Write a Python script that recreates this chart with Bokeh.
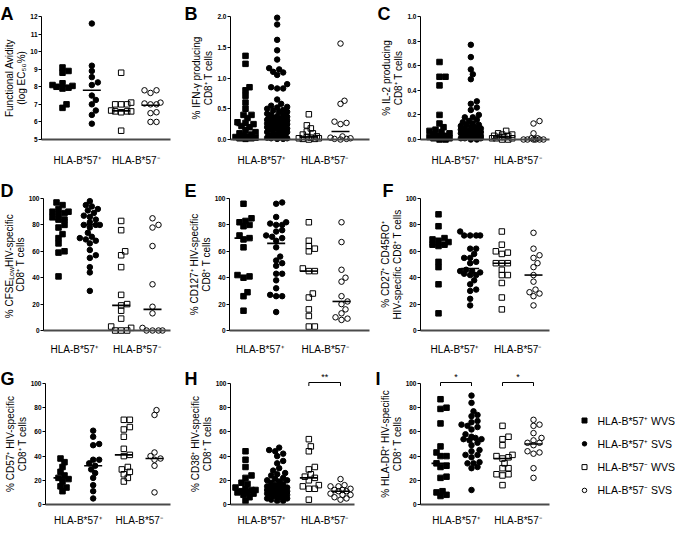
import math
from bokeh.plotting import figure
from bokeh.models import Range1d, FixedTicker, PrintfTickFormatter
from bokeh.layouts import row, column
from bokeh.embed import file_html
from bokeh.resources import INLINE
from bokeh.core.properties import value

FONT = "Liberation Sans"

# ---------------- data ----------------
group_labels = ["HLA-B*57\u207a", "HLA-B*57\u207b"]
legend_labels = ["HLA-B*57\u207a WVS", "HLA-B*57\u207a SVS", "HLA-B*57\u207b WVS", "HLA-B*57\u207b SVS"]

a_pos_wvs = [9.1, 8.9, 8.8, 8.2, 8.1, 8.05, 8.0, 7.95, 7.9, 7.0, 6.8]
a_pos_svs = [11.6, 9.2, 8.9, 8.55, 8.25, 8.1, 7.5, 7.25, 7.0, 6.65, 6.4, 5.9]
a_neg_wvs = [8.8, 7.1, 7.0, 7.0, 7.0, 6.65, 6.6, 6.6, 6.6, 6.55, 5.5]
a_neg_svs = [7.8, 7.8, 7.65, 7.1, 7.05, 7.0, 7.0, 6.55, 6.5, 6.0, 6.0]
a_medians = [8.05, 7.8, 6.63, 6.95]
a_ticks = [5, 6, 7, 8, 9, 10, 11, 12]

b_pos_wvs = [1.36, 1.23, 0.85, 0.80, 0.71, 0.60, 0.50, 0.40, 0.40, 0.35, 0.28, 0.27, 0.25,
             0.22, 0.20, 0.15, 0.12, 0.10, 0.08, 0.06, 0.05, 0.04, 0.03, 0.02, 0.02, 0.01]
b_pos_svs = [1.98, 1.87, 1.62, 1.45, 1.30, 1.16, 1.14, 1.10, 1.09, 1.05, 0.90, 0.85, 0.83, 0.83,
             0.65, 0.58, 0.55, 0.53, 0.52, 0.50, 0.48, 0.47, 0.45, 0.45, 0.42, 0.40, 0.40, 0.38,
             0.37, 0.36, 0.35, 0.34, 0.33, 0.32, 0.31, 0.30, 0.30, 0.28, 0.27, 0.26, 0.25, 0.25,
             0.23, 0.22, 0.21, 0.20, 0.18, 0.18, 0.16, 0.15, 0.14, 0.12, 0.12, 0.10, 0.09, 0.08,
             0.06, 0.06, 0.05, 0.04, 0.03, 0.02, 0.02, 0.01, 0.01]
b_neg_wvs = [0.41, 0.23, 0.18, 0.13, 0.10, 0.08, 0.05, 0.04, 0.03, 0.02, 0.02, 0.01, 0.01, 0.0]
b_neg_svs = [1.56, 0.63, 0.58, 0.29, 0.27, 0.25, 0.05, 0.03, 0.02, 0.01, 0.01, 0.0]
b_medians = [0.23, 0.32, 0.04, 0.13]
b_ticks = [0.0, 0.5, 1.0, 1.5, 2.0]

c_pos_wvs = [0.63, 0.51, 0.51, 0.44, 0.20, 0.13, 0.10, 0.08, 0.07, 0.06, 0.05, 0.04, 0.03,
             0.03, 0.02, 0.02, 0.01, 0.01, 0.0, 0.0]
c_pos_svs = [0.77, 0.67, 0.57, 0.53, 0.49, 0.31, 0.29, 0.26, 0.24, 0.20, 0.18, 0.18, 0.16,
             0.15, 0.14, 0.13, 0.12, 0.12, 0.11, 0.10, 0.10, 0.09, 0.09, 0.08, 0.08, 0.07,
             0.07, 0.06, 0.06, 0.05, 0.05, 0.05, 0.04, 0.04, 0.04, 0.03, 0.03, 0.03, 0.02,
             0.02, 0.02, 0.01, 0.01, 0.01, 0.0, 0.0]
c_neg_wvs = [0.07, 0.05, 0.04, 0.04, 0.03, 0.03, 0.02, 0.02, 0.01, 0.01, 0.01, 0.0, 0.0]
c_neg_svs = [0.15, 0.13, 0.05, 0.01, 0.01, 0.0, 0.0, 0.0, 0.0, 0.0, 0.0]
c_medians = [0.04, 0.06, 0.02, 0.0]
c_ticks = [0.0, 0.2, 0.4, 0.6, 0.8, 1.0]

pct_ticks = [0, 20, 40, 60, 80, 100]

d_pos_wvs = [97, 95, 92, 90, 90, 89, 88, 86, 84, 84, 80, 78, 73, 70, 66, 60, 59, 41]
d_pos_svs = [98, 95, 94, 92, 91, 89, 87, 86, 84, 82, 80, 80, 80, 78, 74, 71, 70, 69, 68, 66,
             61, 57, 55, 48, 44, 30]
d_neg_wvs = [83, 76, 60, 57, 48, 27, 20, 19, 15, 9, 3, 2, 0, 0, 0]
d_neg_svs = [85, 80, 78, 64, 35, 18, 13, 2, 0, 0, 0, 0]
d_medians = [84, 80, 19, 16]

e_pos_wvs = [96, 85, 83, 82, 80, 79, 72, 70, 69, 63, 42, 41, 40, 29, 26, 15]
e_pos_svs = [97, 96, 86, 82, 81, 80, 80, 76, 75, 72, 71, 70, 68, 63, 56, 53, 51, 49, 43, 43,
             38, 32, 27, 26, 26, 14]
e_neg_wvs = [82, 68, 64, 62, 60, 47, 45, 45, 28, 25, 16, 11, 3, 3]
e_neg_svs = [82, 67, 46, 40, 37, 26, 22, 20, 16, 13, 10, 9, 8]
e_medians = [70, 66, 45, 22]

f_pos_wvs = [88, 79, 70, 69, 68, 67, 65, 65, 64, 52, 48, 35, 13]
f_pos_svs = [75, 72, 72, 72, 72, 62, 62, 58, 55, 55, 52, 51, 46, 45, 45, 44, 43, 42, 42, 38,
             35, 31, 30, 24, 19]
f_neg_wvs = [75, 65, 60, 59, 58, 51, 51, 51, 46, 42, 42, 36, 25, 16]
f_neg_svs = [74, 62, 57, 55, 51, 48, 42, 37, 31, 29, 28, 26, 19]
f_medians = [65, 47, 51, 42]

g_pos_wvs = [38, 35, 31, 27, 24, 22, 21, 19, 15, 14, 11]
g_pos_svs = [61, 56, 50, 49, 37, 37, 34, 32, 29, 26, 22, 16, 11, 5]
g_neg_wvs = [70, 70, 64, 62, 56, 46, 41, 40, 31, 29, 27, 25, 22, 19]
g_neg_svs = [78, 74, 43, 40, 38, 37, 32, 10]
g_medians = [22, 32, 41, 38]

h_pos_wvs = [44, 37, 31, 24, 22, 18, 17, 14, 13, 12, 12, 11, 10, 10, 9, 8, 6, 3]
h_pos_svs = [47, 45, 44, 42, 40, 36, 34, 30, 28, 26, 25, 24, 22, 21, 20, 20, 19, 18, 17, 16,
             15, 15, 14, 14, 13, 13, 12, 12, 11, 11, 10, 10, 9, 9, 8, 8, 7, 7, 6, 5, 5, 4, 3, 3]
h_neg_wvs = [54, 48, 44, 31, 29, 25, 23, 22, 20, 16, 15, 13, 13, 4]
h_neg_svs = [21, 16, 15, 15, 13, 12, 12, 11, 11, 9, 8, 8, 6, 5, 4]
h_medians = [12, 14, 22, 11]

i_pos_wvs = [87, 80, 79, 67, 48, 43, 40, 40, 34, 32, 31, 23, 22, 11, 10, 8, 7]
i_pos_svs = [90, 84, 77, 74, 73, 69, 68, 66, 65, 64, 62, 58, 56, 55, 54, 54, 53, 51, 49, 45,
             44, 41, 41, 39, 35, 34, 34, 31, 30, 12]
i_neg_wvs = [65, 56, 54, 49, 41, 40, 39, 38, 34, 30, 30, 25, 25, 24, 16]
i_neg_svs = [70, 66, 65, 59, 55, 53, 51, 51, 49, 44, 43, 42, 30, 22]
i_medians = [34, 54, 38, 50]

sig_brackets = [("H", 3, 4, "**"), ("I", 1, 2, "*"), ("I", 3, 4, "*")]

PANELS = {
    "A": dict(groups=[a_pos_wvs, a_pos_svs, a_neg_wvs, a_neg_svs], medians=a_medians,
              ticks=a_ticks, fmt="%d", ylabel=["Functional Avidity", "(log EC\u2085\u2080%)"]),
    "B": dict(groups=[b_pos_wvs, b_pos_svs, b_neg_wvs, b_neg_svs], medians=b_medians,
              ticks=b_ticks, fmt="%.1f", ylabel=["% IFN-\u03b3 producing", "CD8\u207a T cells"]),
    "C": dict(groups=[c_pos_wvs, c_pos_svs, c_neg_wvs, c_neg_svs], medians=c_medians,
              ticks=c_ticks, fmt="%.1f", ylabel=["% IL-2 producing", "CD8\u207a T cells"]),
    "D": dict(groups=[d_pos_wvs, d_pos_svs, d_neg_wvs, d_neg_svs], medians=d_medians,
              ticks=pct_ticks, fmt="%d", ylabel=None,
              ylabel_parts=[("% CFSE", False), ("Low", True), (" HIV-specific", False)],
              ylabel_line2="CD8\u207a T cells"),
    "E": dict(groups=[e_pos_wvs, e_pos_svs, e_neg_wvs, e_neg_svs], medians=e_medians,
              ticks=pct_ticks, fmt="%d", ylabel=["% CD127\u207a HIV-specific", "CD8\u207a T cells"]),
    "F": dict(groups=[f_pos_wvs, f_pos_svs, f_neg_wvs, f_neg_svs], medians=f_medians,
              ticks=pct_ticks, fmt="%d", ylabel=["% CD27\u207a CD45RO\u207a", "HIV-specific CD8\u207a T cells"]),
    "G": dict(groups=[g_pos_wvs, g_pos_svs, g_neg_wvs, g_neg_svs], medians=g_medians,
              ticks=pct_ticks, fmt="%d", ylabel=["% CD57\u207a HIV-specific", "CD8\u207a T cells"]),
    "H": dict(groups=[h_pos_wvs, h_pos_svs, h_neg_wvs, h_neg_svs], medians=h_medians,
              ticks=pct_ticks, fmt="%d", ylabel=["% CD38\u207a HIV-specific", "CD8\u207a T cells"]),
    "I": dict(groups=[i_pos_wvs, i_pos_svs, i_neg_wvs, i_neg_svs], medians=i_medians,
              ticks=pct_ticks, fmt="%d", ylabel=["% HLA-DR\u207a HIV-specific", "CD8\u207a T cells"]),
}

# ---------------- layout (page pixels) ----------------
ROW_GEOM = [
    dict(top=8, height=164, hi_px=24, lo_px=147, xlab_standoff=9, letter_base=21),
    dict(top=172, height=190, hi_px=206, lo_px=338, xlab_standoff=7, letter_base=198),
    dict(top=362, height=171, hi_px=391, lo_px=512, xlab_standoff=4, letter_base=386),
]
COL_GEOM = [dict(left=8, width=182), dict(left=190, width=192), dict(left=382, width=185)]
PANEL_GEOM = {
    "A": dict(r=0, c=0, fl=49, fr=178, c1=70, c4=158, letter_x=8, ylab_standoff=0),
    "B": dict(r=0, c=1, fl=238, fr=377, c1=253, c4=348, letter_x=192, ylab_standoff=0),
    "C": dict(r=0, c=2, fl=428, fr=557, c1=447, c4=541, letter_x=385, ylab_standoff=0),
    "D": dict(r=1, c=0, fl=51, fr=178, c1=66, c4=160, letter_x=8, ylab_standoff=3),
    "E": dict(r=1, c=1, fl=237, fr=377, c1=251, c4=349, letter_x=192, ylab_standoff=0),
    "F": dict(r=1, c=2, fl=428, fr=557, c1=446, c4=541, letter_x=390, ylab_standoff=0),
    "G": dict(r=2, c=0, fl=53, fr=178, c1=70, c4=162, letter_x=8, ylab_standoff=0),
    "H": dict(r=2, c=1, fl=238, fr=362, c1=253, c4=348, letter_x=192, ylab_standoff=0),
    "I": dict(r=2, c=2, fl=428, fr=557, c1=448, c4=541, letter_x=383, ylab_standoff=0,
              extra_w=116),
}
# legend block placed to the right of panel I (page pixels)
LEGEND_GEOM = dict(panel="I", marker_x=592, text_x=605, first_y=428, row_step=23.3)

GROUP_STYLE = [
    dict(marker="square", size=5.5, fill_color="black"),
    dict(marker="circle", size=5.5, fill_color="black"),
    dict(marker="square", size=5.5, fill_color=None),
    dict(marker="circle", size=5.5, fill_color=None),
]
ARIAL_W = {'%': 889, ' ': 278, 'C': 722, 'F': 611, 'S': 667, 'E': 667, 'L': 556, 'o': 556,
           'w': 722, 'H': 722, 'I': 278, 'V': 667, '-': 333, 's': 500, 'p': 556, 'e': 556,
           'c': 500, 'i': 222, 'f': 278}


def text_width(t, size):
    return sum(ARIAL_W.get(ch, 556) for ch in t) * size / 1000.0


def swarm_offsets(vals, ppy, d=5.0, step=2.0, max_half=11.0):
    order = sorted(range(len(vals)), key=lambda i: (vals[i], i))
    cands = [0.0]
    k = 1
    while k * step <= max_half + 1e-9:
        cands += [k * step, -k * step]
        k += 1
    placed, offs = [], [0.0] * len(vals)
    for i in order:
        y = vals[i] * ppy
        chosen, best, best_d = None, 0.0, -1.0
        for c in cands:
            md = min((math.hypot(c - px, y - py) for px, py in placed), default=1e9)
            if md >= d:
                chosen = c
                break
            if md > best_d:
                best_d, best = md, c
        if chosen is None:
            chosen = best
        placed.append((chosen, y))
        offs[i] = chosen
    return offs


def make_panel(key):
    g = PANEL_GEOM[key]
    rg = ROW_GEOM[g["r"]]
    cg = COL_GEOM[g["c"]]
    spec = PANELS[key]
    W, H = cg["width"] + g.get("extra_w", 0), rg["height"]
    lo, hi = spec["ticks"][0], spec["ticks"][-1]
    ppy = (rg["lo_px"] - rg["hi_px"]) / (hi - lo)
    ppx = (g["c4"] - g["c1"]) / 3.0

    def xd(px):   # page x pixel -> data x
        return 1 + (px - g["c1"]) / ppx

    def yd(py):   # page y pixel -> data y
        return lo + (rg["lo_px"] - py) / ppy

    p = figure(width=W, height=H,
               x_range=Range1d(xd(cg["left"]), xd(cg["left"] + W)),
               y_range=Range1d(yd(rg["top"] + H), yd(rg["top"])),
               output_backend="svg", toolbar_location=None,
               min_border_left=0, min_border_right=0, min_border_top=0, min_border_bottom=0)
    p.title.visible = False
    p.outline_line_color = None
    p.xgrid.visible = False
    p.ygrid.visible = False

    # y axis, pinned to its position
    ya = p.yaxis[0]
    ya.fixed_location = xd(g["fl"])
    ya.bounds = (lo, hi)
    ya.ticker = FixedTicker(ticks=spec["ticks"])
    ya.formatter = PrintfTickFormatter(format=spec["fmt"])
    ya.axis_line_color = "black"
    ya.axis_line_width = 1
    ya.major_tick_line_color = "black"
    ya.major_tick_out = 3
    ya.major_tick_in = 0
    ya.minor_tick_line_color = None
    ya.major_label_text_font = FONT
    ya.major_label_text_font_size = "6.5px"
    ya.major_label_text_font_style = "bold"
    ya.major_label_text_color = "black"
    ya.major_label_standoff = 1
    if spec["ylabel"]:
        ya.axis_label = "\n".join(spec["ylabel"])
        ya.axis_label_text_font = FONT
        ya.axis_label_text_font_size = "10px"
        ya.axis_label_text_font_style = "normal"
        ya.axis_label_text_color = "black"
        ya.axis_label_text_line_height = 1.1
        ya.axis_label_standoff = g["ylab_standoff"]

    # x axis with the two group labels
    xa = p.xaxis[0]
    xa.fixed_location = lo
    xa.bounds = (xd(g["fl"]), xd(g["fr"]))
    xa.ticker = FixedTicker(ticks=[1.5, 3.5])
    xa.major_label_overrides = {1.5: group_labels[0], 3.5: group_labels[1]}
    xa.axis_line_color = "#4a4a4a"
    xa.axis_line_width = 2
    xa.major_tick_line_color = None
    xa.minor_tick_line_color = None
    xa.major_label_standoff = rg["xlab_standoff"]
    xa.major_label_text_font = FONT
    xa.major_label_text_font_size = "10px"
    xa.major_label_text_color = "black"

    # points
    for k, vals in enumerate(spec["groups"]):
        st = GROUP_STYLE[k]
        offs = swarm_offsets(vals, ppy)
        xs = [k + 1 + o / ppx for o in offs]
        p.scatter(x=xs, y=vals, marker=st["marker"], size=st["size"],
                  fill_color=st["fill_color"], line_color="black", line_width=1)

    # medians
    hw = 9.0 / ppx
    cols = [1, 2, 3, 4]
    p.segment(x0=[c - hw for c in cols], x1=[c + hw for c in cols],
              y0=spec["medians"], y1=spec["medians"], line_color="black", line_width=1.6)

    # significance brackets
    for (pk, a, b, txt) in sig_brackets:
        if pk != key:
            continue
        yb = yd(rg["hi_px"] - 1)
        yl = yd(rg["hi_px"] + 2.5)
        p.multi_line(xs=[[a, a, b, b]], ys=[[yl, yb, yb, yl]], line_color="black", line_width=1)
        p.text(x=[(a + b) / 2.0], y=[yd(rg["hi_px"] - 2)], text=[txt], text_align="center",
               text_baseline="bottom", text_font=value(FONT), text_font_size="9px",
               text_color="black")

    # panel letter
    p.text(x=[xd(g["letter_x"])], y=[yd(rg["letter_base"])], text=[key],
           text_font=value(FONT), text_font_size="18px", text_font_style="bold",
           text_color="black", text_align="left", text_baseline="alphabetic")

    # composed y label (with subscript) for panel D
    if spec["ylabel"] is None:
        yc_page = (rg["lo_px"] + rg["hi_px"]) / 2.0
        tick_w = text_width("100", 6.5)
        x2_page = g["fl"] - (3 + 1 + tick_w + g["ylab_standoff"] + 5.5)
        x1_page = x2_page - 11
        parts = spec["ylabel_parts"]
        total = sum(text_width(t, 7 if sub else 10) for t, sub in parts)
        ycur = yc_page + total / 2.0
        for t, sub in parts:
            fs = 7 if sub else 10
            p.text(x=[xd(x1_page + (2.5 if sub else 0))], y=[yd(ycur)], text=[t],
                   angle=math.pi / 2, text_font=value(FONT), text_font_size=f"{fs}px",
                   text_color="black", text_align="left", text_baseline="middle")
            ycur -= text_width(t, fs)
        p.text(x=[xd(x2_page)], y=[yd(yc_page)], text=[spec["ylabel_line2"]],
               angle=math.pi / 2, text_font=value(FONT), text_font_size="10px",
               text_color="black", text_align="center", text_baseline="middle")

    # legend (drawn in the right margin of panel I)
    if LEGEND_GEOM["panel"] == key:
        lgm = LEGEND_GEOM
        ys = [yd(lgm["first_y"] + i * lgm["row_step"]) for i in range(len(legend_labels))]
        for k, st in enumerate(GROUP_STYLE):
            p.scatter(x=[xd(lgm["marker_x"])], y=[ys[k]], marker=st["marker"],
                      size=5 if st["marker"] == "square" else 4.5,
                      fill_color=st["fill_color"], line_color="black", line_width=1)
        p.text(x=[xd(lgm["text_x"])] * len(legend_labels), y=ys, text=legend_labels,
               text_font=value(FONT), text_font_size="10.5px", text_align="left",
               text_baseline="middle", text_color="black")
    return p


panels = {k: make_panel(k) for k in "ABCDEFGHI"}
layout = column(
    row(panels["A"], panels["B"], panels["C"]),
    row(panels["D"], panels["E"], panels["F"]),
    row(panels["G"], panels["H"], panels["I"]),
)

open("out.html", "w").write(file_html(layout, INLINE))
